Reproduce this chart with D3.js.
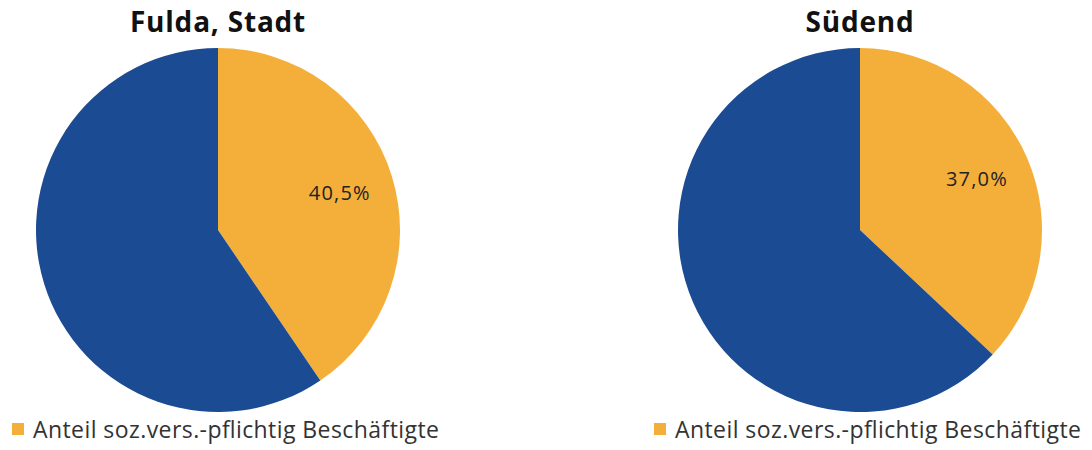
<!DOCTYPE html>
<html>
<head>
<meta charset="utf-8">
<script src="https://cdn.jsdelivr.net/npm/d3@7"></script>
<style>
  body { margin: 0; background: #fff; }
  text { font-family: "Open Sans", sans-serif; }
</style>
</head>
<body>
<script>
// Width and height
var w = 1092;
var h = 450;

var titles = ["Fulda, Stadt", "Südend"];
var shares = [40.5, 37.0];          // Anteil soz.vers.-pflichtig Beschäftigte (%)
var shareLabels = ["40,5%", "37,0%"];
var legendLabel = "Anteil soz.vers.-pflichtig Beschäftigte";
var colors = ["#f4af3b", "#1b4b92"];

var svg = d3.select("body")
            .append("svg")
            .attr("width", w)
            .attr("height", h);

var radius = 182;
var centersX = [218, 860];
var centerY = 230;

var pie = d3.pie().sort(null).value(function(d) { return d; });
var arc = d3.arc().innerRadius(0).outerRadius(radius);
var labelArc = d3.arc().innerRadius(radius * 0.7).outerRadius(radius * 0.7);

titles.forEach(function(t, i) {
    var g = svg.append("g")
        .attr("transform", "translate(" + centersX[i] + "," + centerY + ")");

    var slices = pie([shares[i], 100 - shares[i]]);

    g.selectAll("path.slice")
      .data(slices)
      .enter()
      .append("path")
        .classed("slice", true)
        .attr("d", arc)
        .attr("fill", function(d, j) { return colors[j]; });

    g.append("text")
        .attr("transform", "translate(" + labelArc.centroid(slices[0]) + ")")
        .attr("dy", ".35em")
        .style("text-anchor", "middle")
        .style("font-size", "20px")
        .style("letter-spacing", "1.2px")
        .style("fill", "#222")
        .text(shareLabels[i]);

    // title
    svg.append("text")
        .attr("x", centersX[i])
        .attr("y", 32)
        .style("text-anchor", "middle")
        .style("font-size", "28px")
        .style("letter-spacing", "0.8px")
        .style("font-weight", "bold")
        .style("fill", "#111")
        .text(t);

    // legend
    var lx = centersX[i] - 206;
    svg.append("rect")
        .attr("x", lx)
        .attr("y", 423)
        .attr("width", 12)
        .attr("height", 12)
        .attr("fill", colors[0]);
    svg.append("text")
        .attr("x", lx + 21)
        .attr("y", 438)
        .attr("textLength", 406)
        .attr("lengthAdjust", "spacing")
        .style("font-size", "23px")
        .style("fill", "#333")
        .text(legendLabel);
});
</script>
</body>
</html>
